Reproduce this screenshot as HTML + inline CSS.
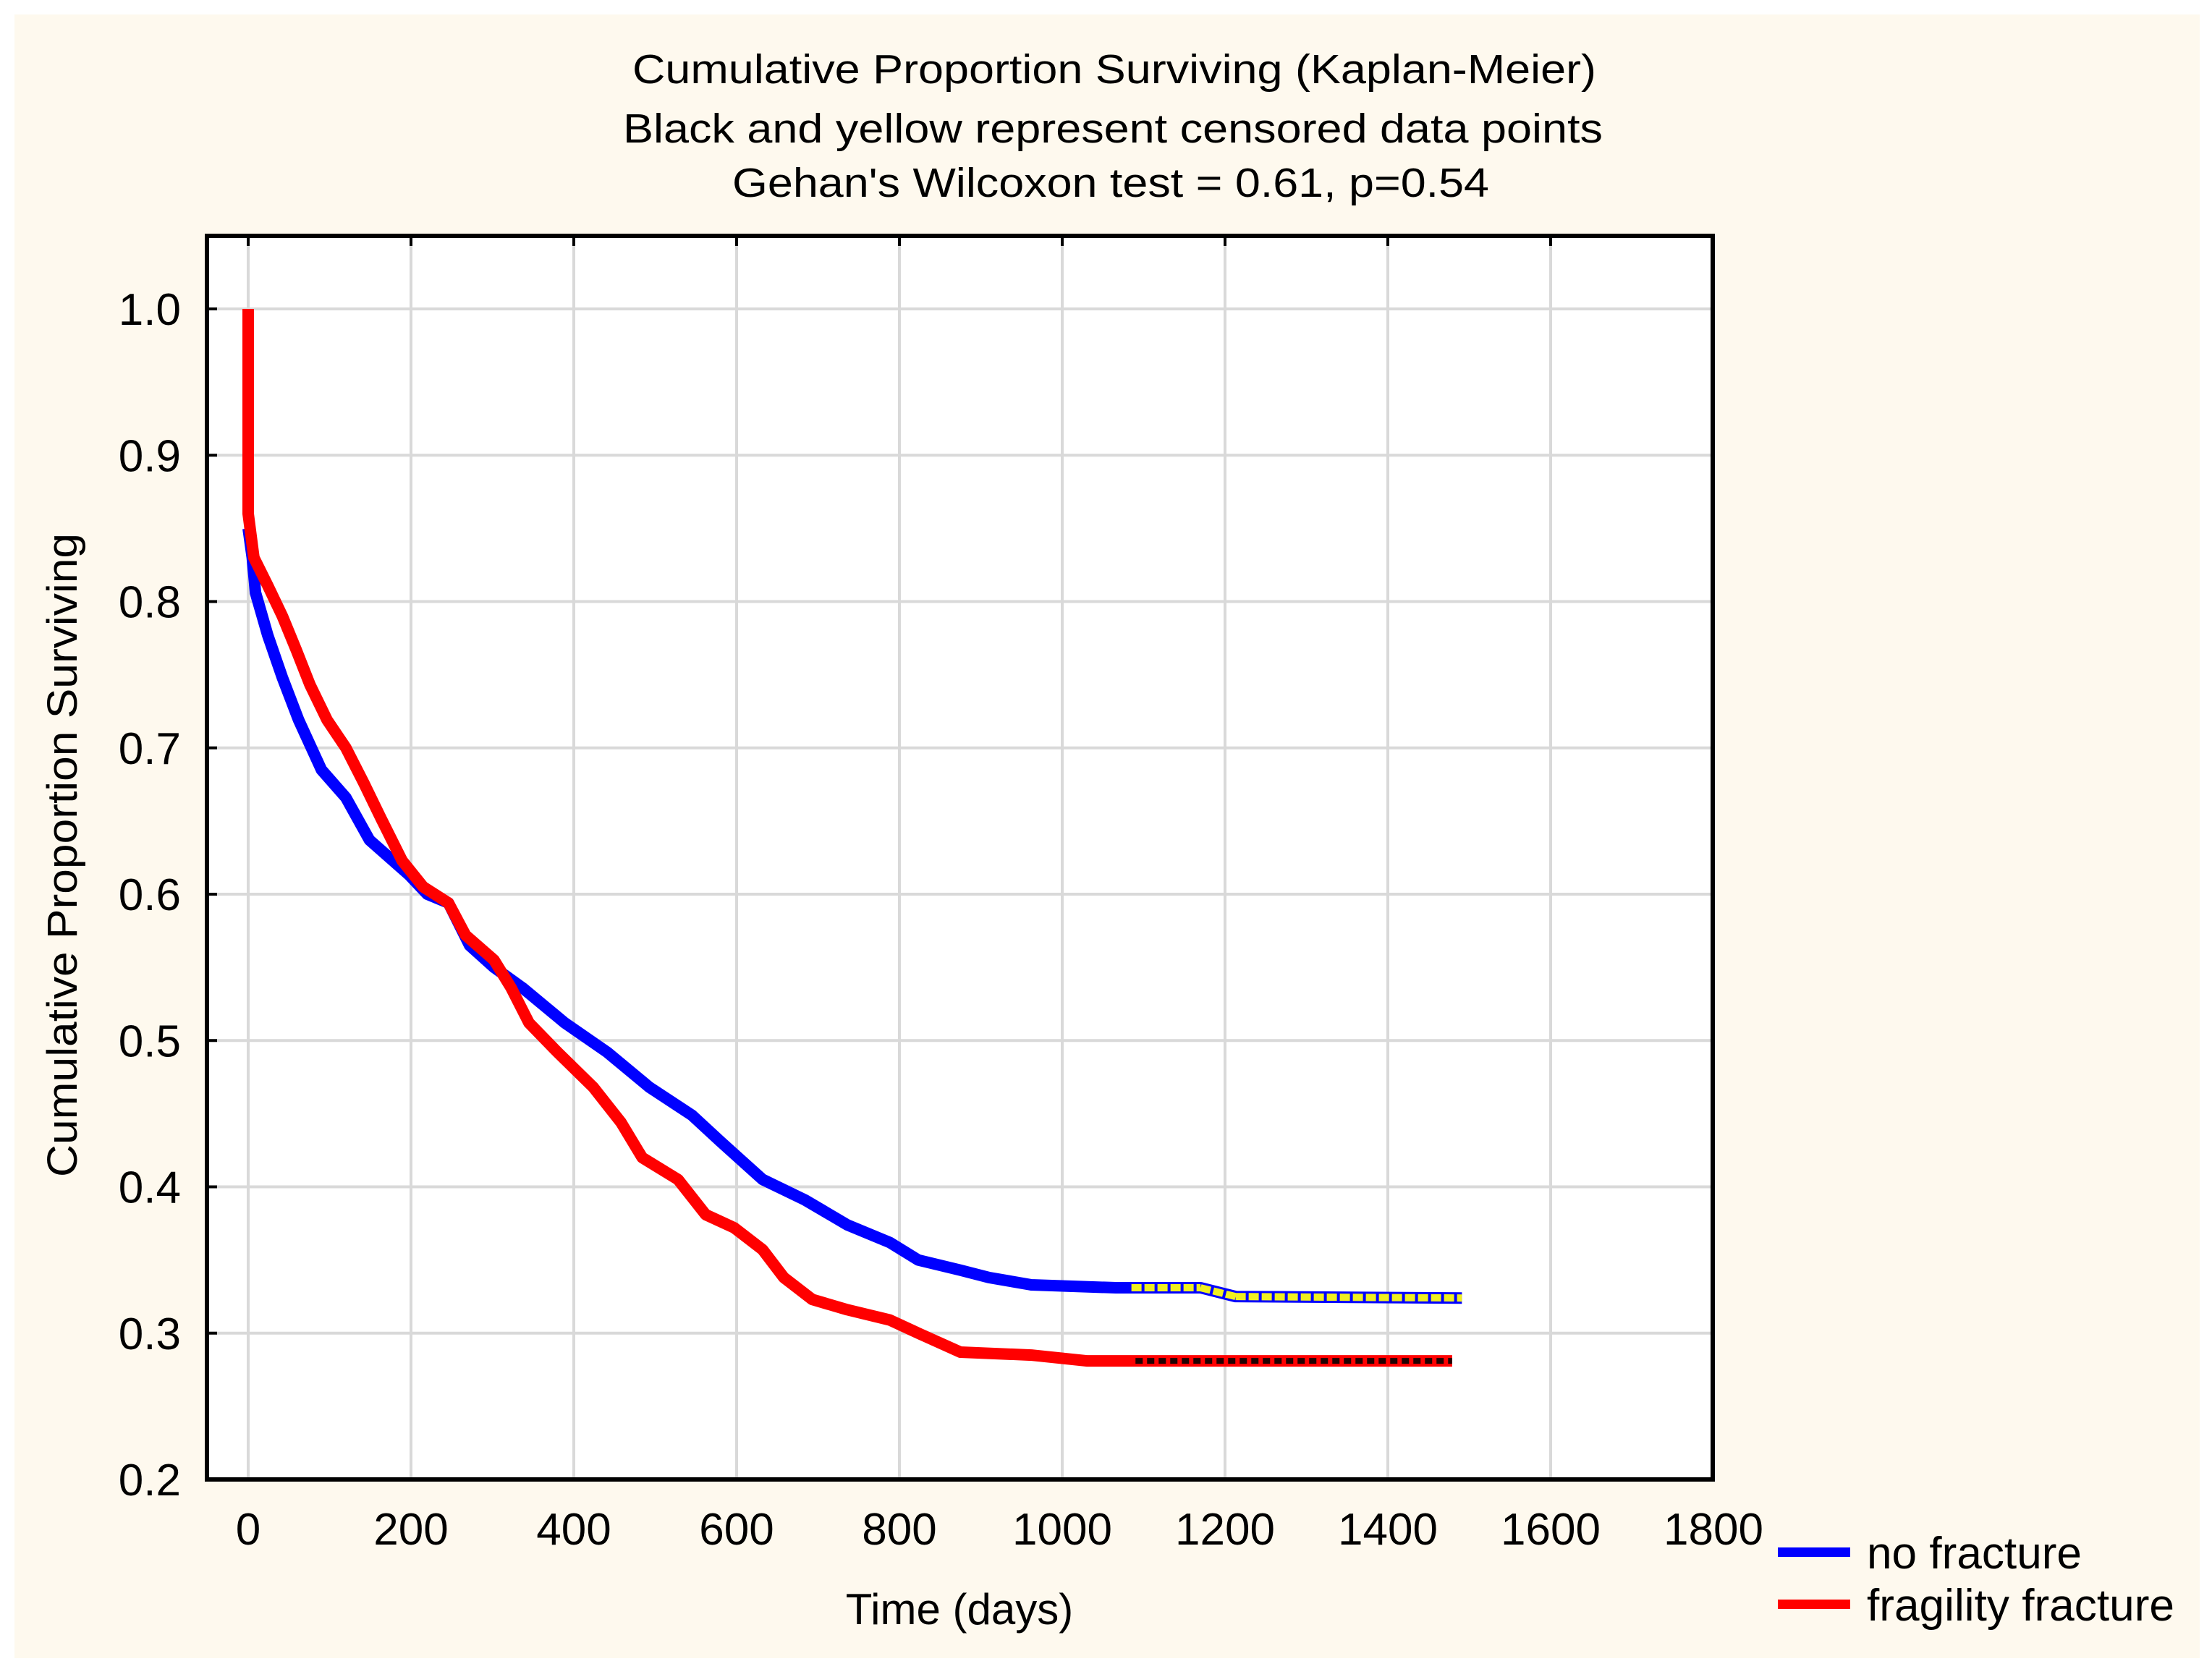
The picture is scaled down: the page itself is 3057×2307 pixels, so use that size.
<!DOCTYPE html>
<html><head><meta charset="utf-8"><style>
html,body{margin:0;padding:0;background:#fff}
svg{display:block}
text{font-family:"Liberation Sans",Arial,sans-serif;fill:#000}
</style></head><body>
<svg id="chart" width="3057" height="2307" viewBox="0 0 3057 2307" xmlns="http://www.w3.org/2000/svg">
<rect x="20" y="20" width="3020" height="2272" fill="#fef9ee"/>
<g>
<text x="1540" y="115" font-size="57" text-anchor="middle" textLength="1332" lengthAdjust="spacingAndGlyphs">Cumulative Proportion Surviving (Kaplan-Meier)</text>
<text x="1538" y="197" font-size="57" text-anchor="middle" textLength="1354" lengthAdjust="spacingAndGlyphs">Black and yellow represent censored data points</text>
<text x="1535" y="272" font-size="57" text-anchor="middle" textLength="1046" lengthAdjust="spacingAndGlyphs">Gehan's Wilcoxon test = 0.61, p=0.54</text>
</g>
<rect x="286" y="326" width="2081" height="1719" fill="#fff"/>
<g id="grid"></g>
<g id="series"></g>
<rect x="286" y="326" width="2081" height="1719" fill="none" stroke="#000" stroke-width="6"/>
<g id="ticks"></g>
<text x="1326" y="2245" font-size="60" text-anchor="middle">Time (days)</text>
<text transform="translate(106,1182) rotate(-90)" font-size="58" text-anchor="middle" textLength="890" lengthAdjust="spacingAndGlyphs">Cumulative Proportion Surviving</text>
<g>
<g>
<rect x="2457" y="2139" width="100" height="13" fill="#0000ff"/>
<text x="2580" y="2168" font-size="62" textLength="297" lengthAdjust="spacingAndGlyphs">no fracture</text>
</g>
<g>
<rect x="2457" y="2211" width="100" height="13" fill="#ff0000"/>
<text x="2580" y="2240" font-size="62" textLength="425" lengthAdjust="spacingAndGlyphs">fragility fracture</text>
</g>
</g>
</svg>
<script>
const xTicks = [0,200,400,600,800,1000,1200,1400,1600,1800];
const yTicks = [0.2,0.3,0.4,0.5,0.6,0.7,0.8,0.9,1.0];
const noFracDays = [0,5,9,24,42,62,90,120,149,198,220,246,272,302,337,389,441,493,545,580,632,684,736,788,823,875,910,962,1066,1170,1213,1491];
const noFracSurv = [0.85,0.83,0.806,0.777,0.748,0.719,0.685,0.666,0.637,0.613,0.600,0.594,0.565,0.550,0.536,0.512,0.492,0.468,0.449,0.431,0.405,0.391,0.374,0.362,0.350,0.343,0.338,0.333,0.331,0.331,0.325,0.324];
const fragDays = [0,0,7,24,42,59,76,97,120,142,163,189,215,246,267,302,323,345,380,424,458,484,528,562,597,632,658,693,736,788,823,875,962,1031,1479];
const fragSurv = [1.0,0.86,0.83,0.811,0.79,0.767,0.743,0.719,0.70,0.676,0.652,0.623,0.605,0.594,0.572,0.555,0.536,0.512,0.492,0.468,0.444,0.42,0.405,0.381,0.372,0.357,0.338,0.323,0.316,0.309,0.30,0.287,0.285,0.281,0.281];
const noFracCensorStart = 1085;
const fragCensorStart = 1090;

const NS = 'http://www.w3.org/2000/svg';
const X0 = 343, PXD = 1.125, Y1 = 427, PYV = 2022.5;
function xs(d){ return X0 + d*PXD; }
function ys(v){ return Y1 + (1-v)*PYV; }
function mk(tag, attrs, parent){
  const e = document.createElementNS(NS, tag);
  for (const k in attrs) e.setAttribute(k, attrs[k]);
  parent.appendChild(e);
  return e;
}
const grid = document.getElementById('grid');
const ticks = document.getElementById('ticks');
const series = document.getElementById('series');

xTicks.forEach(t => {
  const gl = mk('line', {x1:xs(t), x2:xs(t), y1:326, y2:2045, stroke:'#d9d9d9', 'stroke-width':4}, grid);
  
  
  const tk = mk('line', {x1:xs(t), x2:xs(t), y1:326, y2:340, stroke:'#000', 'stroke-width':4}, ticks);
  
  
  const lb = mk('text', {x:xs(t), y:2135, 'font-size':62, 'text-anchor':'middle'}, ticks);
  lb.textContent = String(t);
  
  
});
yTicks.forEach(t => {
  const gl = mk('line', {x1:286, x2:2367, y1:ys(t), y2:ys(t), stroke:'#d9d9d9', 'stroke-width':4}, grid);
  
  
  const tk = mk('line', {x1:286, x2:300, y1:ys(t), y2:ys(t), stroke:'#000', 'stroke-width':4}, ticks);
  
  
  const lb = mk('text', {x:250, y:ys(t)+22, 'font-size':62, 'text-anchor':'end'}, ticks);
  lb.textContent = t.toFixed(1);
  
  
});

function linePath(days, vals){
  let d = 'M' + xs(days[0]) + ' ' + ys(vals[0]);
  for (let i = 1; i < days.length; i++){
    d += ' L' + xs(days[i]) + ' ' + ys(vals[i]);
  }
  return d;
}
function censorPath(days, vals, start){
  let d = '';
  for (let i = 1; i < days.length; i++){
    if (days[i] < start) continue;
    const a = Math.max(days[i-1], start);
    const t = (a - days[i-1]) / ((days[i] - days[i-1]) || 1);
    const va = vals[i-1] + (vals[i] - vals[i-1]) * t;
    d += 'M' + xs(a) + ' ' + ys(va) + ' L' + xs(days[i]) + ' ' + ys(vals[i]) + ' ';
  }
  return d;
}
const blue = mk('path', {d:linePath(noFracDays, noFracSurv), fill:'none', stroke:'#0000ff', 'stroke-width':16, 'stroke-linejoin':'round'}, series);


const red = mk('path', {d:linePath(fragDays, fragSurv), fill:'none', stroke:'#ff0000', 'stroke-width':16, 'stroke-linejoin':'round'}, series);


const yc = mk('path', {d:censorPath(noFracDays, noFracSurv, noFracCensorStart), fill:'none', stroke:'#f0f020', 'stroke-width':10, 'stroke-dasharray':'14 4'}, series);


const bc = mk('path', {d:censorPath(fragDays, fragSurv, fragCensorStart), fill:'none', stroke:'#200000', 'stroke-width':8, 'stroke-dasharray':'10 6'}, series);


</script>
</body></html>
